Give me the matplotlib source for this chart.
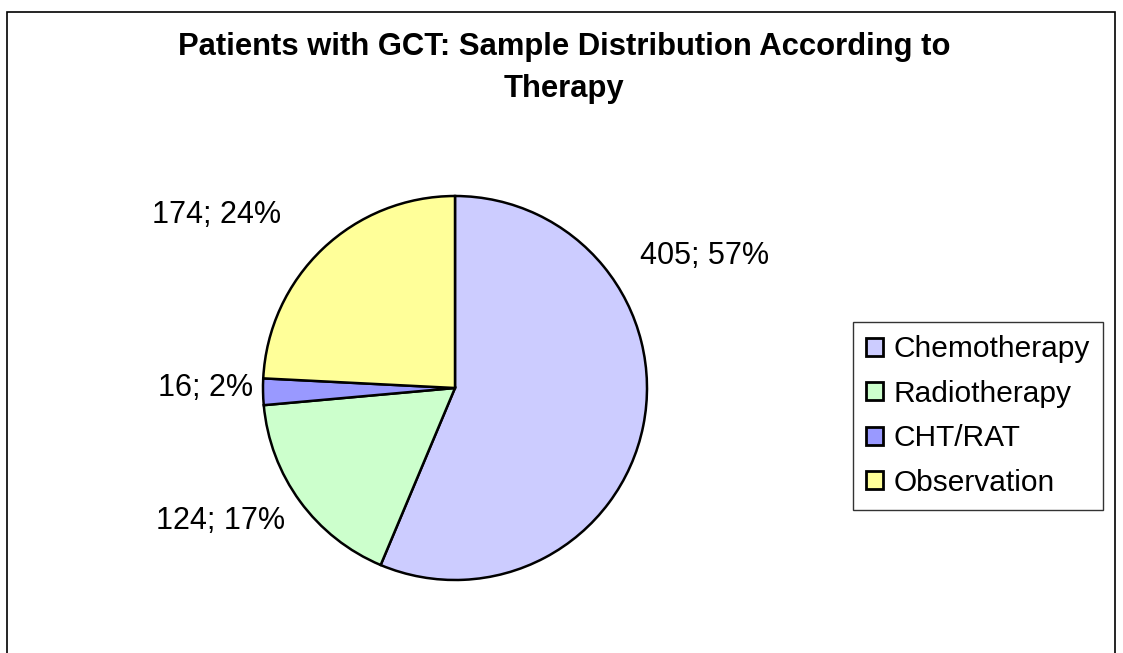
import matplotlib
matplotlib.use("Agg")
import matplotlib.pyplot as plt
from matplotlib.patches import Rectangle, Patch

# Data
categories = ["Chemotherapy", "Radiotherapy", "CHT/RAT", "Observation"]
counts = [405, 124, 16, 174]
percents = [57, 17, 2, 24]
title = "Patients with GCT: Sample Distribution According to\nTherapy"

colors = ["#CCCCFF", "#CCFFCC", "#9999FF", "#FFFF99"]
label_pos = [(1.30, 0.69), (-1.22, -0.695), (-1.30, 0.0), (-1.24, 0.90)]

plt.rcParams['font.family'] = ['Liberation Sans', 'DejaVu Sans']

W, H = 1123, 653
fig = plt.figure(figsize=(W / 100, H / 100), dpi=100)

# outer chart border
fig.patches.append(Rectangle((7 / W, -0.05), (1115 - 7) / W, 1.05 - 12 / H,
                             transform=fig.transFigure, fill=False,
                             edgecolor="black", linewidth=1.2))

cx, cy, r = 455, 388, 192
ax = fig.add_axes([(cx - r) / W, (H - cy - r) / H, 2 * r / W, 2 * r / H])
wedges, _ = ax.pie(counts, colors=colors, startangle=90, counterclock=False,
                   wedgeprops=dict(edgecolor="black", linewidth=1.8))
ax.set_xlim(-1, 1)
ax.set_ylim(-1, 1)
ax.set_aspect("equal")
ax.axis("off")

for (x, y), c, p in zip(label_pos, counts, percents):
    ax.text(x, y, f"{c}; {p}%", ha="center", va="center", fontsize=22,
            clip_on=False)

fig.text(564 / W, 1 - 68 / H, title, ha="center", va="center",
         fontsize=22.3, fontweight="bold", linespacing=1.55)

handles = [Patch(facecolor=c, edgecolor="black", linewidth=2.0) for c in colors]
leg = fig.legend(handles, categories, loc="upper left",
                 bbox_to_anchor=(853 / W, 1 - 322 / H), fontsize=21.5,
                 frameon=True, fancybox=False, handlelength=0.55,
                 handleheight=0.55, handletextpad=0.35, labelspacing=0.55,
                 borderpad=0.45, borderaxespad=0)
leg.get_frame().set_edgecolor("black")
leg.get_frame().set_linewidth(1.0)

fig.savefig("out.png", dpi=100)
